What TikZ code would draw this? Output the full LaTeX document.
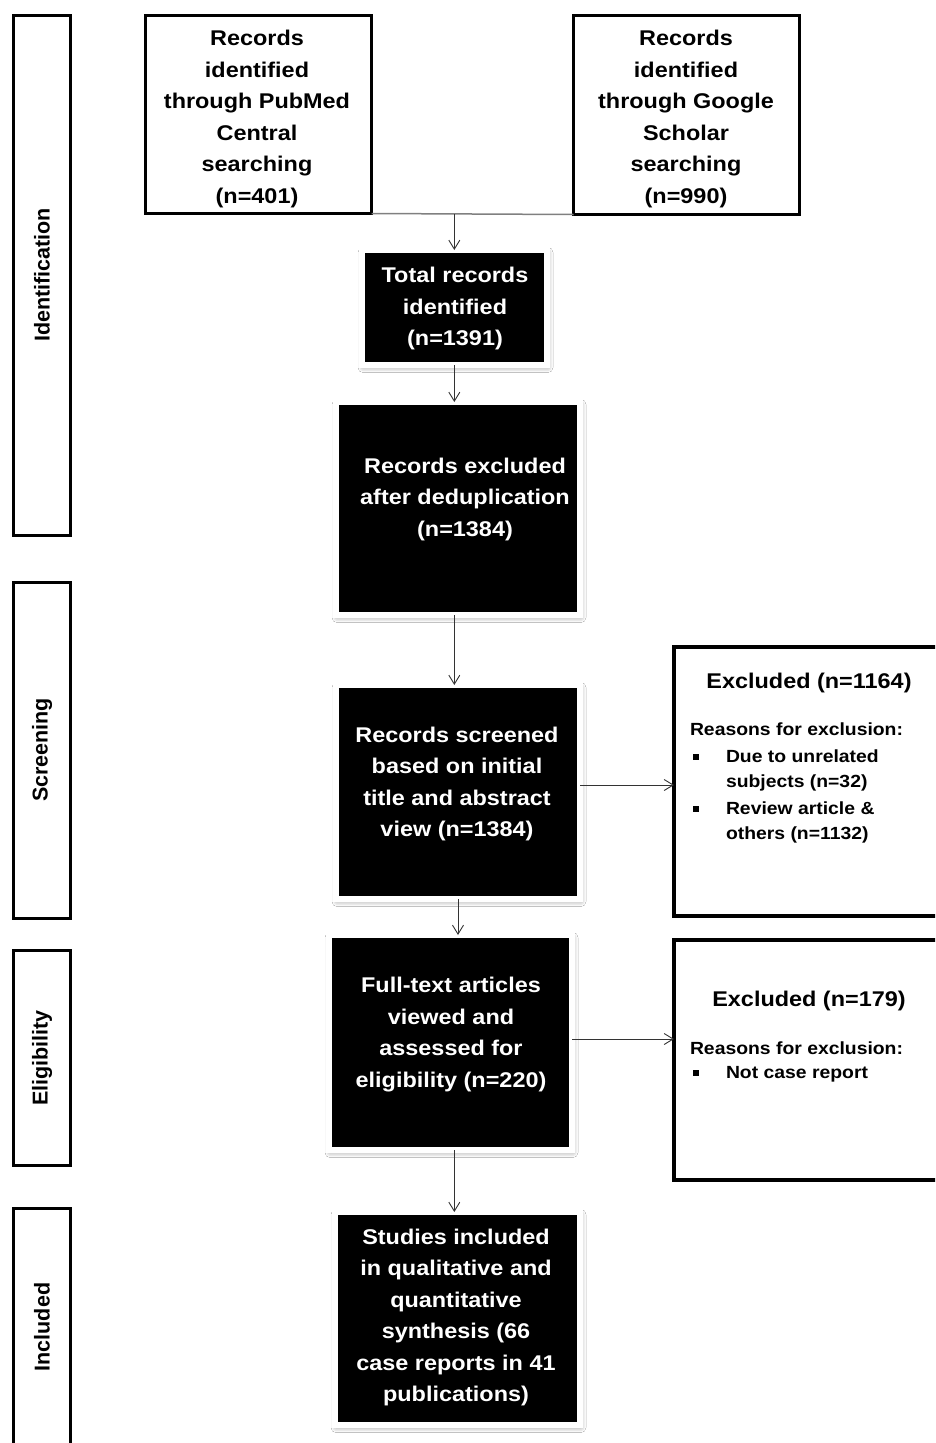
\documentclass[tikz,border=0pt]{standalone}
\usepackage{fontspec}
\setmainfont{Liberation Sans}[FakeStretch=1.1]
\newfontfamily\vfont{Liberation Sans}
\usetikzlibrary{arrows.meta,shadows.blur,calc}
\newcommand\exbullet{\makebox[36pt][l]{\hspace{3pt}\rule[3pt]{5.5pt}{5.5pt}}}
\begin{document}
\begin{tikzpicture}[x=1pt,y=-1pt,
  every node/.style={inner sep=0pt, outer sep=0pt},
  sidebox/.style={draw=black, line width=3pt, fill=white, minimum width=57pt},
  srcbox/.style={draw=black, line width=3pt, fill=white, minimum width=226pt},
  blackbox/.style={fill=black, draw=white, line width=6pt,
    blur shadow={shadow xshift=1pt, shadow yshift=-2.5pt, shadow blur radius=5pt, shadow opacity=45}},
  exbox/.style={draw=black, line width=4pt, fill=white},
  sidetext/.style={rotate=90, font=\vfont\bfseries\fontsize{21.5}{26}\selectfont},
  btext/.style={align=center, font=\bfseries\fontsize{21.3}{31.5}\selectfont},
  wtext/.style={btext, text=white},
  headtext/.style={font=\bfseries\fontsize{21.3}{24}\selectfont},
  listtext/.style={align=left, anchor=north west, font=\bfseries\fontsize{17.6}{24.5}\selectfont},
  arr/.style={draw=black!80, line width=0.9pt, -{Straight Barb[length=9pt,width=11pt,line width=0.9pt]}},
  link/.style={draw=black!50, line width=1.5pt}
]
\useasboundingbox (0,0) rectangle (935,1443);
\fill[white] (0,0) rectangle (935,1443);
\clip (0,0) rectangle (935,1443);

% side labels
\node[sidebox, minimum height=520pt] (sIdent) at (42,275.5) {};
\node[sidetext] (tIdent) at (42,275) {Identification};
\node[sidebox, minimum height=336pt] (sScreen) at (42,750.5) {};
\node[sidetext] (tScreen) at (42,750) {Screening};
\node[sidebox, minimum height=215pt] (sElig) at (42,1058) {};
\node[sidetext] (tElig) at (42,1058) {Eligibility};
\node[sidebox, minimum height=260pt] (sIncl) at (42,1338.5) {};
\node[sidetext] (tIncl) at (42,1327) {Included};

% source boxes
\node[srcbox, minimum height=198pt] (pub) at (258.5,114.5) {};
\node[btext] (pubT) at (257,119) {Records\\identified\\through PubMed\\Central\\searching\\(n=401)};
\node[srcbox, minimum height=199pt] (goo) at (686.5,115) {};
\node[btext] (gooT) at (686,119) {Records\\identified\\through Google\\Scholar\\searching\\(n=990)};

% black boxes
\node[blackbox, minimum width=185pt, minimum height=115pt] (tot) at (454.5,307.5) {};
\node[wtext] (totT) at (455,308.5) {Total records\\identified\\(n=1391)};
\node[blackbox, minimum width=244pt, minimum height=213pt] (dedup) at (458,508.5) {};
\node[wtext] (dedupT) at (465,499) {Records excluded\\after deduplication\\(n=1384)};
\node[blackbox, minimum width=244pt, minimum height=214pt] (screen) at (458,792) {};
\node[wtext] (screenT) at (457,784) {Records screened\\based on initial\\title and abstract\\view (n=1384)};
\node[blackbox, minimum width=243pt, minimum height=215pt] (full) at (450.5,1042.5) {};
\node[wtext] (fullT) at (451,1034.5) {Full-text articles\\viewed and\\assessed for\\eligibility (n=220)};
\node[blackbox, minimum width=245pt, minimum height=213pt] (study) at (457.5,1318.5) {};
\node[wtext] (studyT) at (456,1317.5) {Studies included\\in qualitative and\\quantitative\\synthesis (66\\case reports in 41\\publications)};

% exclusion boxes
\node[exbox, minimum width=286pt, minimum height=268.5pt] (ex1) at (817,781.25) {};
\node[headtext] (ex1H) at (809,683) {Excluded (n=1164)};
\node[listtext] (ex1L) at (690,722.5) {Reasons for exclusion:\\[3pt]
  \exbullet Due to unrelated\\
  \hspace*{36pt}subjects (n=32)\\[3pt]
  \exbullet Review article \&\\
  \hspace*{36pt}others (n=1132)};
\node[exbox, minimum width=286pt, minimum height=240pt] (ex2) at (817,1060) {};
\node[headtext] (ex2H) at (809,1001) {Excluded (n=179)};
\node[listtext] (ex2L) at (690,1041.5) {Reasons for exclusion:\\
  \exbullet Not case report};

% connectors
\draw[link] (pub.south east) -- (goo.south west);
\coordinate (j) at ($(pub.south east)!0.41!(goo.south west)$);
\draw[arr] (j) -- (j |- tot.north);
\draw[arr] (tot.south -| j) -- (j |- dedup.north);
\draw[arr] (dedup.south -| j) -- (j |- screen.north);
\draw[arr] ($(screen.east)+(0,-7)$) coordinate (a1) -- (a1 -| ex1.west);
\draw[arr] (screen.south) -- (screen.south |- full.north);
\draw[arr] ($(full.east)+(0,-3.5)$) coordinate (a2) -- (a2 -| ex2.west);
\draw[arr] (full.south -| j) -- (j |- study.north);
\end{tikzpicture}
\end{document}
